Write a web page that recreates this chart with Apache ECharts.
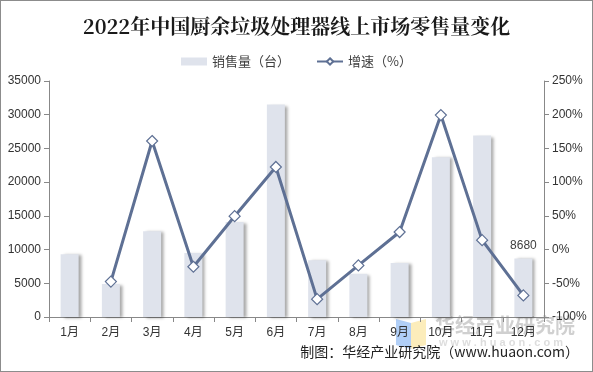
<!DOCTYPE html>
<html><head><meta charset="utf-8">
<script src="https://cdn.jsdelivr.net/npm/echarts@6/dist/echarts.min.js"></script>
<style>
html,body{margin:0;padding:0;background:#fff;}
#c{width:591px;height:370px;border:1px solid #8c8c8c;}
</style></head>
<body><div id="c"></div>
<script>
const categories = ['1月','2月','3月','4月','5月','6月','7月','8月','9月','10月','11月','12月'];
const sales = [9300, 4900, 12700, 9500, 14100, 31500, 8400, 6400, 8000, 23700, 26900, 8680];
const growth = [null, -47.5, 161, -25.5, 49.5, 122.5, -73.5, -23.5, 26, 199.5, 14, -68];
const leftTicks = [0, 5000, 10000, 15000, 20000, 25000, 30000, 35000];
const rightTicks = ['-100%','-50%','0%','50%','100%','150%','200%','250%'];

const chart = echarts.init(document.getElementById('c'));
const font = 'Arial, "Liberation Sans", "Noto Sans CJK SC", sans-serif';
chart.setOption({
  animation: false,
  textStyle: {fontFamily: font},
  title: {
    text: '2022年中国厨余垃圾处理器线上市场零售量变化',
    left: 'center', top: 10,
    textStyle: {fontSize: 20, fontWeight: 'bold', color: '#1a1a1a', fontFamily: '"Noto Serif CJK SC","Noto Sans CJK SC", serif'}
  },
  legend: {
    top: 49, left: 'center', itemGap: 26, itemWidth: 26, itemHeight: 8,
    textStyle: {fontSize: 13, color: '#404040', fontFamily: '"Noto Sans CJK SC", sans-serif'},
    data: [
      {name: '销售量（台）', icon: 'rect'},
      {name: '增速（%）'}
    ]
  },
  grid: {left: 48, right: 48, top: 80, bottom: 54, containLabel: false},
  xAxis: {
    type: 'category', data: categories,
    axisLine: {lineStyle: {color: '#888'}},
    axisTick: {show: true, length: 5, lineStyle: {color: '#888'}},
    axisLabel: {color: '#333', fontSize: 12, margin: 10}
  },
  yAxis: [{
    type: 'value', min: 0, max: 35000, interval: 5000,
    axisLine: {show: true, lineStyle: {color: '#888'}},
    axisTick: {show: true, length: 5, lineStyle: {color: '#888'}},
    splitLine: {show: false},
    axisLabel: {color: '#333', fontSize: 12, margin: 8,
      formatter: v => leftTicks.includes(v) ? String(v) : ''}
  }, {
    type: 'value', min: -100, max: 250, interval: 50,
    axisLine: {show: true, lineStyle: {color: '#888'}},
    axisTick: {show: true, length: 5, lineStyle: {color: '#888'}},
    splitLine: {show: false},
    axisLabel: {color: '#333', fontSize: 12, margin: 8,
      formatter: v => rightTicks[Math.round((v + 100) / 50)]}
  }],
  series: [{
    name: '销售量（台）', type: 'bar', data: sales, barWidth: 18,
    itemStyle: {color: '#dfe3ec', shadowColor: 'rgba(0,0,0,0.35)', shadowOffsetX: 3, shadowOffsetY: 1, shadowBlur: 3},
    label: {
      show: true, position: 'top', color: '#404040', fontSize: 12, distance: 7,
      formatter: p => p.dataIndex === sales.length - 1 ? String(p.value) : ''
    }
  }, {
    name: '增速（%）', type: 'line', yAxisIndex: 1, data: growth,
    symbol: 'diamond', symbolSize: 11, showAllSymbol: true,
    lineStyle: {color: '#5e7094', width: 3},
    itemStyle: {color: '#fff', borderColor: '#5e7094', borderWidth: 1.2}
  }],
  graphic: [
    {type: 'polygon', shape: {points: [[395, 318], [410, 322], [410, 348], [395, 344]]}, style: {fill: 'rgba(100,160,240,0.5)'}, silent: true},
    {type: 'polygon', shape: {points: [[410, 322], [425, 318], [425, 344], [410, 348]]}, style: {fill: 'rgba(250,220,120,0.5)'}, silent: true},
    {type: 'text', left: 434, top: 314, style: {text: '华经产业研究院', fill: 'rgba(150,150,150,0.45)', fontSize: 20, fontWeight: 'bold', fontFamily: '"Noto Sans CJK SC", sans-serif'}, silent: true},
    {type: 'text', left: 438, top: 336, style: {text: 'w w w . h u a o n . c o m', fill: 'rgba(170,170,170,0.4)', fontSize: 11, fontWeight: 'bold', fontFamily: font}, silent: true},
    {type: 'text', right: 13, top: 344, style: {text: '制图：华经产业研究院（www.huaon.com）', fill: '#222', fontSize: 14, fontFamily: '"Noto Sans CJK SC", sans-serif'}, silent: true}
  ]
});
</script></body></html>
